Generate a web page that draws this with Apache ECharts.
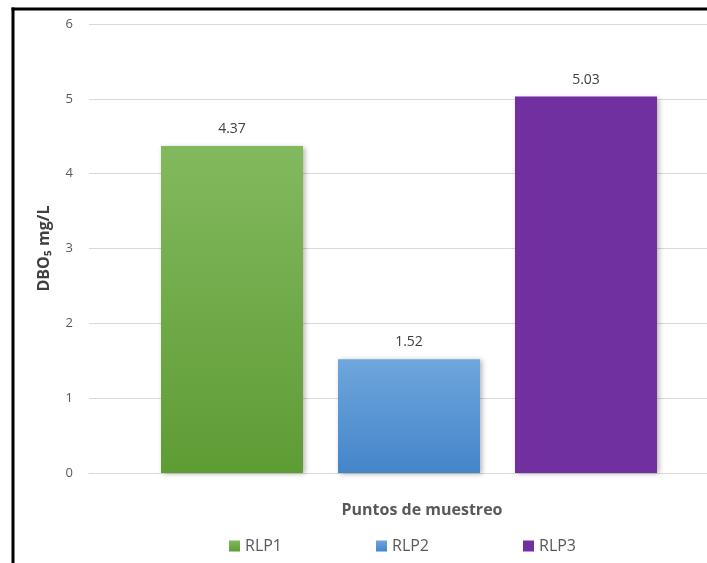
<!DOCTYPE html>
<html>
<head>
<meta charset="utf-8">
<script src="https://cdn.jsdelivr.net/npm/echarts@6/dist/echarts.min.js"></script>
<style>
html,body{margin:0;padding:0;background:#fff;}
#chart{width:707px;height:563px;}
</style>
</head>
<body>
<div id="chart"></div>
<script>
var seriesNames = ['RLP1', 'RLP2', 'RLP3'];
var seriesValues = [4.37, 1.52, 5.03];
var yTicks = [0, 1, 2, 3, 4, 5, 6];
var colorsTop = ['#82b95e', '#6fa6dd', '#7030a0'];
var colorsBottom = ['#5e9c34', '#4485c8', '#7030a0'];

var chart = echarts.init(document.getElementById('chart'));
var fontFam = '"Open Sans", "Noto Sans", sans-serif';

// one slot per sampling point, each series fills only its own slot
var series = [];
for (var i = 0; i < seriesNames.length; i++) {
	var d = seriesNames.map(function (n, j) { return j === i ? seriesValues[i] : '-'; });
	series.push({
		name: seriesNames[i],
		type: 'bar',
		xAxisIndex: 1,
		yAxisIndex: 1,
		data: d,
		barWidth: 142,
		barGap: '-100%',
		itemStyle: {
			color: new echarts.graphic.LinearGradient(0, 0, 0, 1, [
				{offset: 0, color: colorsTop[i]},
				{offset: 1, color: colorsBottom[i]}
			]),
			shadowBlur: 5,
			shadowOffsetX: 2,
			shadowOffsetY: 1,
			shadowColor: 'rgba(0,0,0,0.3)'
		},
		label: {
			show: true,
			position: 'top',
			distance: 10,
			color: '#404040',
			fontSize: 14,
			fontFamily: fontFam,
			formatter: function (p) { return p.value.toFixed(2); }
		}
	});
}

var option = {
	animation: false,
	backgroundColor: '#fff',
	color: colorsBottom,
	grid: [
		{left: 89, right: 0, top: 24, bottom: 90},
		{left: 143.5, width: 531, top: 24, bottom: 90}
	],
	legend: {
		data: seriesNames,
		left: 224,
		top: 533,
		itemWidth: 11,
		itemHeight: 11,
		itemGap: 94,
		icon: 'rect',
		textStyle: {color: '#595959', fontSize: 16, fontFamily: fontFam}
	},
	xAxis: [{
		type: 'category',
		gridIndex: 0,
		data: [''],
		axisLine: {lineStyle: {color: '#d9d9d9'}},
		axisTick: {show: false},
		axisLabel: {show: false}
	}, {
		type: 'category',
		gridIndex: 1,
		data: seriesNames,
		name: 'Puntos de muestreo',
		nameLocation: 'middle',
		nameGap: 29,
		nameTextStyle: {color: '#595959', fontSize: 16, fontWeight: 'bold', fontFamily: fontFam, padding: [0, 0, 0, 26]},
		axisLine: {show: false},
		axisTick: {show: false},
		axisLabel: {show: false}
	}],
	yAxis: [{
		type: 'value',
		gridIndex: 0,
		min: yTicks[0],
		max: yTicks[yTicks.length - 1],
		interval: 1,
		name: 'DBO₅ mg/L',
		nameLocation: 'middle',
		nameGap: 37,
		nameTextStyle: {color: '#404040', fontSize: 16, fontWeight: 'bold', fontFamily: fontFam},
		axisLine: {show: false},
		axisTick: {show: false},
		axisLabel: {color: '#595959', fontSize: 13, margin: 16, fontFamily: fontFam},
		splitLine: {lineStyle: {color: '#d9d9d9'}}
	}, {
		type: 'value',
		gridIndex: 1,
		min: yTicks[0],
		max: yTicks[yTicks.length - 1],
		interval: 1,
		axisLine: {show: false},
		axisTick: {show: false},
		axisLabel: {show: false},
		splitLine: {show: false}
	}],
	graphic: [{
		type: 'line',
		shape: {x1: 11.5, y1: 9, x2: 707, y2: 9},
		style: {stroke: '#000', lineWidth: 3},
		silent: true
	}, {
		type: 'line',
		shape: {x1: 13, y1: 7.5, x2: 13, y2: 563},
		style: {stroke: '#000', lineWidth: 3},
		silent: true
	}],
	series: series
};
chart.setOption(option);
</script>
</body>
</html>
